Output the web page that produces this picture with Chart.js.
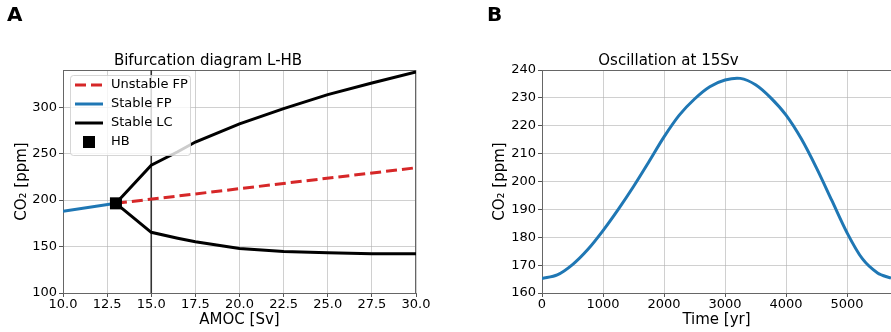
<!DOCTYPE html>
<html>
<head>
<meta charset="utf-8">
<script src="https://cdn.jsdelivr.net/npm/chart.js@4"></script>
<style>
body{margin:0;overflow:hidden;background:#fff;}
#wrap{position:relative;width:891px;height:332px;}
canvas{position:absolute;top:0;}
.lbl{position:absolute;top:4px;font:bold 20px 'DejaVu Sans';line-height:1;color:#000;}
</style>
</head>
<body>
<div id="wrap">
  <canvas id="chartA" width="446" height="332" style="left:0"></canvas>
  <canvas id="chartB" width="445" height="332" style="left:446px"></canvas>
  <div class="lbl" style="left:7px">A</div>
  <div class="lbl" style="left:487px">B</div>
</div>
<script>
// panel A - bifurcation diagram
const fpStableX = [10, 13.0];
const fpStableY = [188, 196.5];
const fpUnstableX = [13.0, 30];
const fpUnstableY = [196.5, 234.8];
const lcX = [13.0, 15, 16.5, 17.5, 20, 22.5, 25, 27.5, 30];
const lcUpper = [196.5, 237.5, 252, 262.5, 282, 298.5, 313.5, 326, 338];
const lcLower = [196.5, 165.3, 159, 155.2, 148, 144.6, 143.4, 142.3, 142.3];
const hbX = [13.0];
const hbY = [196.5];
const amocMarker = 15;

// panel B - oscillation at 15 Sv
const timeYr = [0, 250, 500, 750, 1000, 1250, 1500, 1750, 2000, 2250, 2500, 2750, 3000, 3250, 3500, 3750, 4000, 4250, 4500, 4750, 5000, 5250, 5500, 5720];
const co2Osc = [165.2, 166.5, 170.2, 175.6, 182.4, 190.0, 198.2, 207.0, 216.0, 223.8, 229.6, 234.0, 236.4, 237.0, 234.7, 230.0, 223.8, 215.3, 204.8, 193.2, 181.6, 172.3, 167.2, 165.3];
const timeTicks = [0, 1000, 2000, 3000, 4000, 5000];

const FONT = "'DejaVu Sans'";
const pts = (xs, ys) => xs.map((x, i) => ({x: x, y: ys[i]}));

// top/right spines, chart.js only draws the left and bottom ones
const frame = {
  id: 'frame',
  beforeDatasetsDraw(chart, args, opts) {
    const {ctx, chartArea: a} = chart;
    ctx.save();
    ctx.strokeStyle = '#666';
    ctx.lineWidth = 1;
    ctx.beginPath();
    ctx.moveTo(a.left, a.top + 0.5);
    ctx.lineTo(a.right, a.top + 0.5);
    if (opts.right) {
      ctx.moveTo(a.right - 0.5, a.top);
      ctx.lineTo(a.right - 0.5, a.bottom);
    }
    ctx.stroke();
    if (opts.vline !== undefined) {
      const px = chart.scales.x.getPixelForValue(opts.vline);
      ctx.strokeStyle = '#333';
      ctx.lineWidth = 1.6;
      ctx.beginPath();
      ctx.moveTo(px, a.top);
      ctx.lineTo(px, a.bottom);
      ctx.stroke();
    }
    ctx.restore();
  }
};

// legend box drawn inside the plot, like matplotlib's
const boxLegend = {
  id: 'boxLegend',
  afterDatasetsDraw(chart) {
    const {ctx, chartArea: a} = chart;
    const items = chart.data.datasets.filter(d => d.label);
    const x0 = a.left + 7, y0 = a.top + 5, w = 120, h = 80;
    ctx.save();
    ctx.fillStyle = 'rgba(255,255,255,0.8)';
    ctx.strokeStyle = 'rgba(204,204,204,0.8)';
    ctx.lineWidth = 1;
    ctx.beginPath();
    ctx.roundRect(x0 + 0.5, y0 + 0.5, w, h, 3);
    ctx.fill();
    ctx.stroke();
    ctx.font = '13px ' + FONT;
    ctx.textBaseline = 'middle';
    items.forEach((d, i) => {
      const cy = y0 + 10 + i * 19;
      if (d.showLine === false) {
        ctx.fillStyle = d.backgroundColor;
        ctx.fillRect(x0 + 13, cy - 6, 12, 12);
      } else {
        ctx.strokeStyle = d.borderColor;
        ctx.lineWidth = d.borderWidth;
        ctx.setLineDash(d.borderDash || []);
        ctx.beginPath();
        ctx.moveTo(x0 + 5, cy);
        ctx.lineTo(x0 + 33, cy);
        ctx.stroke();
        ctx.setLineDash([]);
      }
      ctx.fillStyle = '#000';
      ctx.fillText(d.label, x0 + 41, cy);
    });
    ctx.restore();
  }
};

function axisOpts(min, max, step, fmt, title, isY, titlePad, fixedSize, tickList) {
  const ax = {
    type: 'linear',
    min: min,
    max: max,
    afterFit: s => { if (isY) s.width = fixedSize; else s.height = fixedSize; },
    grid: {color: 'rgba(176,176,176,0.6)', lineWidth: 1, tickLength: 4, tickColor: '#555'},
    border: {color: '#666', width: 1},
    ticks: {
      stepSize: step, includeBounds: false, autoSkip: false, maxRotation: 0,
      padding: isY ? 2 : 0, color: '#000', font: {family: FONT, size: 13},
      callback: fmt
    },
    title: {display: true, text: title, color: '#000', font: {family: FONT, size: 15}, padding: titlePad}
  };
  if (tickList) ax.afterBuildTicks = s => { s.ticks = tickList.map(v => ({value: v})); };
  return ax;
}

const titleOpts = text => ({
  display: true, text: text, color: '#000',
  font: {family: FONT, size: 15, weight: 'normal', lineHeight: 1.2},
  padding: {top: 52, bottom: 0}
});

new Chart(document.getElementById('chartA'), {
  type: 'line',
  data: {
    datasets: [
      {label: 'Unstable FP', data: pts(fpUnstableX, fpUnstableY), borderColor: '#d62728', borderWidth: 3,
       borderDash: [11, 5], pointRadius: 0},
      {label: 'Stable FP', data: pts(fpStableX, fpStableY), borderColor: '#1f77b4', borderWidth: 3, pointRadius: 0},
      {label: 'Stable LC', data: pts(lcX, lcUpper), borderColor: '#000', borderWidth: 3, pointRadius: 0},
      {data: pts(lcX, lcLower), borderColor: '#000', borderWidth: 3, pointRadius: 0},
      {label: 'HB', data: pts(hbX, hbY), showLine: false, pointStyle: 'rect', pointRadius: 8.5,
       backgroundColor: '#000', borderColor: '#000', borderWidth: 0, order: -1}
    ]
  },
  options: {
    responsive: false,
    animation: false,
    events: [],
    layout: {padding: {left: 0, right: 30, top: 0, bottom: 0}},
    plugins: {
      legend: {display: false},
      tooltip: {enabled: false},
      title: titleOpts('Bifurcation diagram L-HB'),
      frame: {right: true, vline: amocMarker}
    },
    scales: {
      x: axisOpts(10, 30, 2.5, v => v.toFixed(1), 'AMOC [Sv]', false, {top: 0, bottom: 3}, 39),
      y: axisOpts(100, 340, 50, v => String(v), 'CO\u2082 [ppm]', true, {top: 13, bottom: 0}, 63)
    }
  },
  plugins: [frame, boxLegend]
});

new Chart(document.getElementById('chartB'), {
  type: 'line',
  data: {
    datasets: [
      {data: pts(timeYr, co2Osc), borderColor: '#1f77b4', borderWidth: 3, pointRadius: 0, tension: 0.3}
    ]
  },
  options: {
    responsive: false,
    animation: false,
    events: [],
    layout: {padding: {left: 0, right: 0, top: 0, bottom: 0}},
    plugins: {
      legend: {display: false},
      tooltip: {enabled: false},
      title: titleOpts('Oscillation at 15Sv'),
      frame: {right: false}
    },
    scales: {
      x: axisOpts(0, 5720, 1000, v => String(v), 'Time [yr]', false, {top: 0, bottom: 3}, 39, timeTicks),
      y: axisOpts(160, 240, 10, v => String(v), 'CO\u2082 [ppm]', true, {top: 45, bottom: 0}, 96)
    }
  },
  plugins: [frame]
});
</script>
</body>
</html>
